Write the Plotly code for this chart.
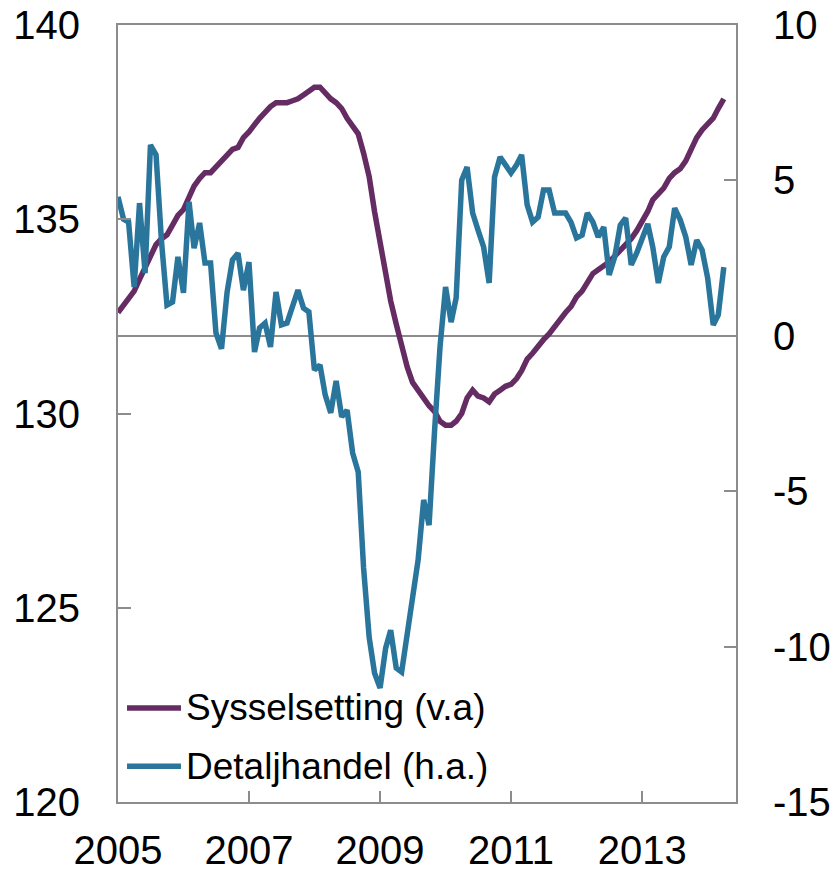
import pandas as pd
import plotly.graph_objects as go

# Monthly data, Jan 2005 - Apr 2014
start_month = "2005-01-01"

sysselsetting = [
    132.6, 132.8, 133.0, 133.15, 133.45, 133.75, 134.05, 134.35, 134.5, 134.6,
    134.85, 135.1, 135.25, 135.55, 135.85, 136.05, 136.2, 136.2, 136.35, 136.5,
    136.65, 136.8, 136.85, 137.1, 137.25, 137.45, 137.6, 137.75, 137.9, 138.0,
    138.0, 138.0, 138.05, 138.1, 138.2, 138.3, 138.4, 138.4, 138.25, 138.1,
    138.0, 137.85, 137.6, 137.4, 137.2, 136.7, 136.1, 135.2, 134.4, 133.6,
    132.9, 132.3, 131.7, 131.2, 130.8, 130.6, 130.35, 130.2, 130.05, 129.8,
    129.7, 129.7, 129.8, 130.0, 130.4, 130.6, 130.45, 130.4, 130.3, 130.5,
    130.6, 130.7, 130.75, 130.9, 131.1, 131.4, 131.55, 131.75, 131.9, 132.05,
    132.25, 132.45, 132.6, 132.75, 133.0, 133.15, 133.4, 133.6, 133.7, 133.8,
    133.9, 134.05, 134.2, 134.35, 134.5, 134.7, 134.95, 135.2, 135.5, 135.65,
    135.8, 136.05, 136.2, 136.3, 136.5, 136.8, 137.1, 137.3, 137.45, 137.6,
    137.85, 138.1,
]

detaljhandel = [
    4.47, 3.75, 3.66, 1.57, 4.27, 2.02, 6.14, 5.82, 3.0, 0.99,
    1.09, 2.54, 1.38, 4.31, 2.82, 3.63, 2.34, 2.34, 0.09, -0.42,
    1.4, 2.44, 2.66, 1.47, 2.37, -0.52, 0.25, 0.41, -0.36, 1.41,
    0.35, 0.41, 0.95, 1.47, 0.89, 0.77, -1.1, -0.94, -1.9, -2.48,
    -1.45, -2.61, -2.39, -3.77, -4.38, -7.47, -9.7, -10.85, -11.33, -10.05,
    -9.47, -10.69, -10.82, -9.5, -8.5, -7.21, -5.28, -6.09, -3.03, -0.36,
    1.57, 0.44, 1.22, 5.01, 5.43, 3.95, 3.4, 2.86, 1.7, 5.11,
    5.75, 5.5, 5.24, 5.5, 5.82, 4.21, 3.66, 3.82, 4.69, 4.69,
    3.95, 3.95, 3.95, 3.66, 3.15, 3.24, 3.95, 3.66, 3.18, 3.5,
    1.96, 2.54, 3.56, 3.79, 2.28, 2.66, 3.1, 3.6, 2.86, 1.7,
    2.54, 2.86, 4.11, 3.73, 3.18, 2.28, 3.08, 2.76, 1.86, 0.35,
    0.67, 2.21,
]

year_ticks = ["2005", "2007", "2009", "2011", "2013"]
left_ticks = [120, 125, 130, 135, 140]
right_ticks = [-15, -10, -5, 0, 5, 10]

names = ["Sysselsetting (v.a)", "Detaljhandel (h.a.)"]
colors = ["#642C63", "#2A759C"]

dates_s = pd.date_range(start_month, periods=len(sysselsetting), freq="MS")
dates_d = pd.date_range(start_month, periods=len(detaljhandel), freq="MS")

FONT = "Liberation Sans, Arial, sans-serif"
AX = "#8c8c8c"

fig = go.Figure()
fig.add_trace(go.Scatter(x=dates_s, y=sysselsetting, mode="lines", name=names[0],
                         line=dict(color=colors[0], width=5.5), yaxis="y"))
fig.add_trace(go.Scatter(x=dates_d, y=detaljhandel, mode="lines", name=names[1],
                         line=dict(color=colors[1], width=5.5), yaxis="y2"))

fig.update_layout(
    width=836, height=872,
    margin=dict(l=118, r=100, t=25, b=70, autoexpand=False),
    paper_bgcolor="white", plot_bgcolor="white",
    showlegend=False,
    font=dict(family=FONT, size=40, color="black"),
    xaxis=dict(
        type="date", range=["2005-01-01", "2014-06-08"], automargin=False,
        tickvals=[f"{y}-01-01" for y in year_ticks], ticktext=year_ticks,
        ticks="inside", ticklen=11, tickwidth=1.5, tickcolor=AX,
        ticklabelstandoff=12, ticklabeloverflow="allow",
        showline=True, linecolor=AX, linewidth=2, mirror=True,
        showgrid=False, zeroline=False, tickfont=dict(size=40),
    ),
    yaxis=dict(
        range=[120, 140], tickvals=left_ticks, automargin=False,
        ticks="inside", ticklen=13, tickwidth=1.5, tickcolor=AX,
        ticklabelstandoff=28, ticklabeloverflow="allow",
        showline=True, linecolor=AX, linewidth=2,
        showgrid=False, zeroline=False, tickfont=dict(size=40),
    ),
    yaxis2=dict(
        range=[-15, 10], tickvals=right_ticks,
        ticktext=[str(v) for v in right_ticks],
        overlaying="y", side="right", automargin=False,
        ticks="inside", ticklen=12, tickwidth=1.5, tickcolor=AX,
        ticklabelstandoff=27, ticklabeloverflow="allow",
        showline=True, linecolor=AX, linewidth=2,
        showgrid=False, zeroline=True, zerolinecolor=AX, zerolinewidth=2,
        tickfont=dict(size=40),
    ),
)

# Legend (drawn inside plot, lower left)
leg_y = [0.121, 0.046]
for name, col, yy in zip(names, colors, leg_y):
    fig.add_shape(type="line", xref="paper", yref="paper",
                  x0=0.0146, x1=0.1019, y0=yy, y1=yy,
                  line=dict(color=col, width=5.5))
    fig.add_annotation(xref="paper", yref="paper", x=0.106, y=yy,
                       xanchor="left", yanchor="middle", showarrow=False,
                       text=name, font=dict(family=FONT, size=37, color="black"))

fig.write_html("out.html", config={"displayModeBar": False},
               post_script="document.body.style.margin='0';")
